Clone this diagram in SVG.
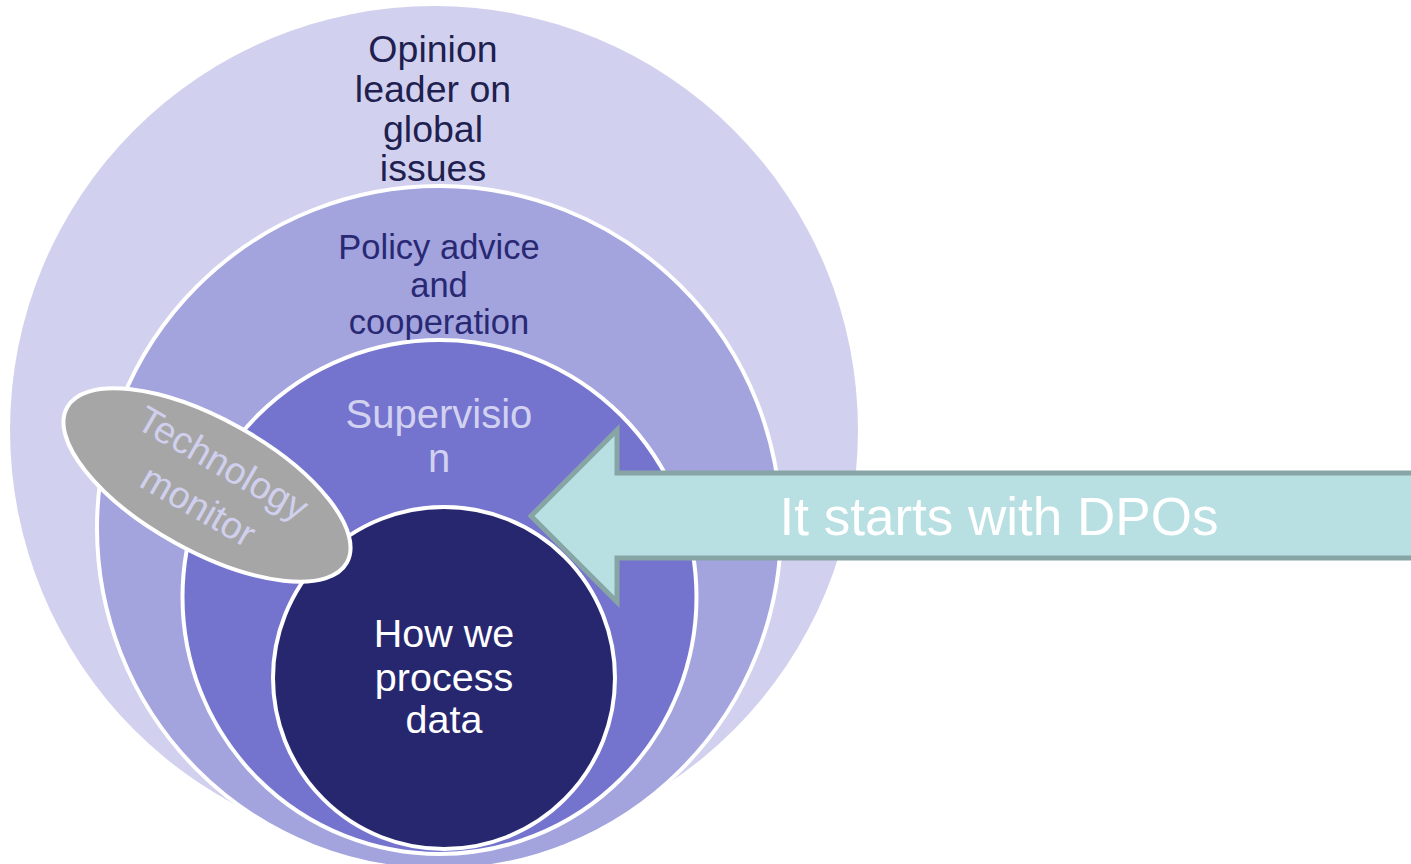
<svg xmlns="http://www.w3.org/2000/svg" width="1411" height="864" viewBox="0 0 1411 864">
<style>
  text { font-family: "Liberation Sans", Arial, sans-serif; text-anchor: middle; }
  .ring { stroke: #ffffff; stroke-width: 4; }
  .t1 { font-size: 37.5px; fill: #1f1f50; }
  .t2 { font-size: 34.5px; fill: #282873; }
  .t3 { font-size: 40px; fill: #d2d2f0; }
  .t4 { font-size: 39.5px; fill: #ffffff; }
  .t5 { font-size: 37.5px; fill: #d0d0ee; }
  .t6 { font-size: 53px; fill: #ffffff; }
</style>
<rect width="1411" height="864" fill="#ffffff"/>
<g id="opinion-leader">
  <circle cx="434" cy="430" r="424" fill="#d1d1ef"/>
  <text class="t1" x="433" y="62">Opinion</text>
  <text class="t1" x="433" y="102">leader on</text>
  <text class="t1" x="433" y="142">global</text>
  <text class="t1" x="433" y="181">issues</text>
</g>
<g id="policy-advice">
  <circle class="ring" cx="439" cy="528" r="342" fill="#a3a3de"/>
  <text class="t2" x="439" y="259">Policy advice</text>
  <text class="t2" x="439" y="297">and</text>
  <text class="t2" x="439" y="334">cooperation</text>
</g>
<g id="supervision">
  <circle class="ring" cx="439.5" cy="597" r="257" fill="#7474cf"/>
  <text class="t3" x="439" y="428">Supervisio</text>
  <text class="t3" x="439" y="472">n</text>
</g>
<g id="process-data">
  <circle class="ring" cx="444" cy="678" r="171" fill="#272770"/>
  <text class="t4" x="444" y="647">How we</text>
  <text class="t4" x="444" y="691">process</text>
  <text class="t4" x="444" y="733">data</text>
</g>
<g id="technology-monitor">
  <ellipse class="ring" cx="207" cy="485" rx="160" ry="66" transform="rotate(29 207 485)" fill="#a6a6a6"/>
  <g transform="translate(211 484) rotate(30)">
    <text class="t5" x="0" y="-11">Technology</text>
    <text class="t5" x="0" y="38">monitor</text>
  </g>
</g>
<g id="connectors">
  <g id="dpo-arrow">
    <path d="M1415,473 L617,473 L617,430 L531,516 L617,602 L617,558 L1415,558 Z" fill="#b8dfe2" stroke="#87a5a5" stroke-width="5" stroke-linejoin="miter"/>
    <text class="t6" x="999" y="535">It starts with DPOs</text>
  </g>
</g>
</svg>
